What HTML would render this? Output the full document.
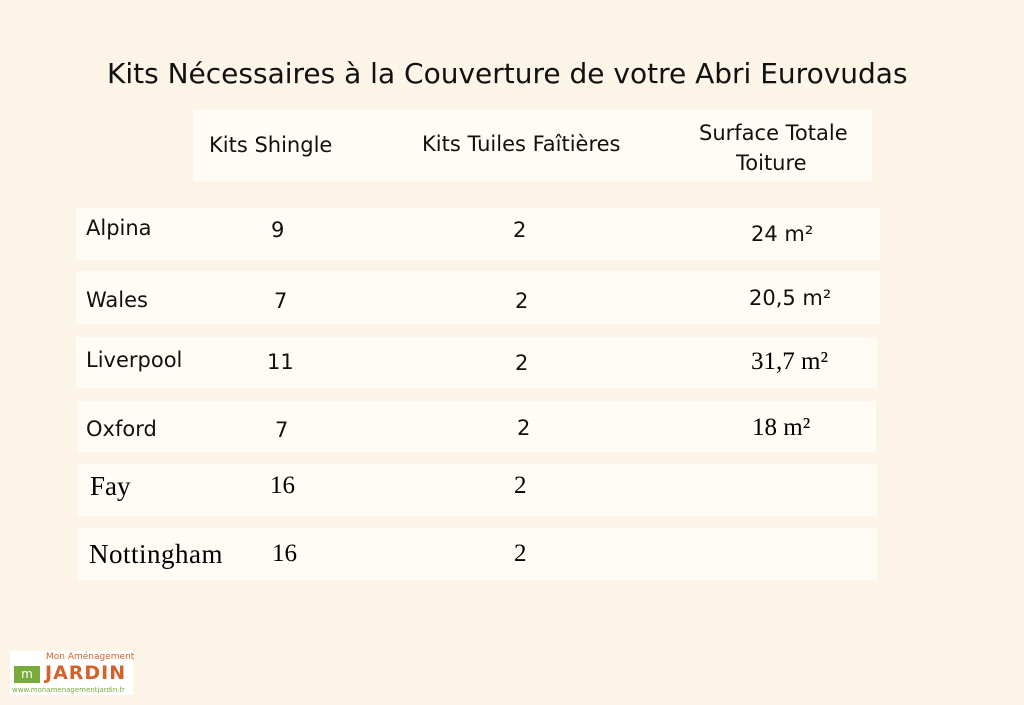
<!DOCTYPE html>
<html><head><meta charset="utf-8"><style>
body{margin:0;width:1024px;height:705px;background:#fcf4e6;position:relative;overflow:hidden;font-family:"DejaVu Sans","Liberation Sans",sans-serif;color:#111}
.b{position:absolute;background:#fffbf5}
.t{position:absolute;white-space:nowrap;font-size:21px}
.s{font-family:"Liberation Serif",serif;font-size:25px;color:#000}
</style></head><body>
<div class="t" style="left:107px;top:57px;font-size:28px">Kits Nécessaires à la Couverture de votre Abri Eurovudas</div>
<div class="b" style="left:193px;top:110px;width:679px;height:71px"></div>
<div class="t" style="left:209px;top:133px">Kits Shingle</div>
<div class="t" style="left:422px;top:132px">Kits Tuiles Faîtières</div>
<div class="t" style="left:699px;top:121px">Surface Totale</div>
<div class="t" style="left:736px;top:151px">Toiture</div>

<div class="b" style="left:76px;top:208px;width:804px;height:52px"></div>
<div class="b" style="left:76px;top:271px;width:804px;height:53px"></div>
<div class="b" style="left:76px;top:337px;width:801px;height:51px"></div>
<div class="b" style="left:77px;top:401px;width:799px;height:51px"></div>
<div class="b" style="left:77px;top:464px;width:800px;height:52px"></div>
<div class="b" style="left:77px;top:528px;width:800px;height:52px"></div>

<div class="t" style="left:86px;top:216px">Alpina</div>
<div class="t" style="left:271px;top:218px">9</div>
<div class="t" style="left:513px;top:218px">2</div>
<div class="t" style="left:751px;top:222px">24 m²</div>

<div class="t" style="left:86px;top:288px">Wales</div>
<div class="t" style="left:274px;top:289px">7</div>
<div class="t" style="left:515px;top:289px">2</div>
<div class="t" style="left:749px;top:286px">20,5 m²</div>

<div class="t" style="left:86px;top:348px">Liverpool</div>
<div class="t" style="left:267px;top:350px">11</div>
<div class="t" style="left:515px;top:351px">2</div>
<div class="t s" style="left:751px;top:348px">31,7 m²</div>

<div class="t" style="left:86px;top:417px">Oxford</div>
<div class="t" style="left:275px;top:418px">7</div>
<div class="t" style="left:517px;top:416px">2</div>
<div class="t s" style="left:752px;top:414px">18 m²</div>

<div class="t s" style="left:90px;top:471px;font-size:27px">Fay</div>
<div class="t s" style="left:270px;top:472px">16</div>
<div class="t s" style="left:514px;top:472px">2</div>

<div class="t s" style="left:89px;top:539px;font-size:27px;letter-spacing:0.5px">Nottingham</div>
<div class="t s" style="left:272px;top:540px">16</div>
<div class="t s" style="left:514px;top:540px">2</div>

<div style="position:absolute;left:10px;top:651px;width:123px;height:44px;background:#fff"></div>
<div style="position:absolute;left:14px;top:666px;width:26px;height:17px;background:#7aab3a;color:#fff;font-size:12px;line-height:17px;text-align:center">m</div>
<div class="t" style="left:46px;top:652px;font-size:9px;color:#d4622a">Mon Aménagement</div>
<div class="t" style="left:45px;top:662px;font-size:19px;font-weight:bold;color:#d4622a;letter-spacing:1px">JARDIN</div>
<div class="t" style="left:12px;top:686px;font-size:7px;color:#7aab3a">www.monamenagementjardin.fr</div>
</body></html>
